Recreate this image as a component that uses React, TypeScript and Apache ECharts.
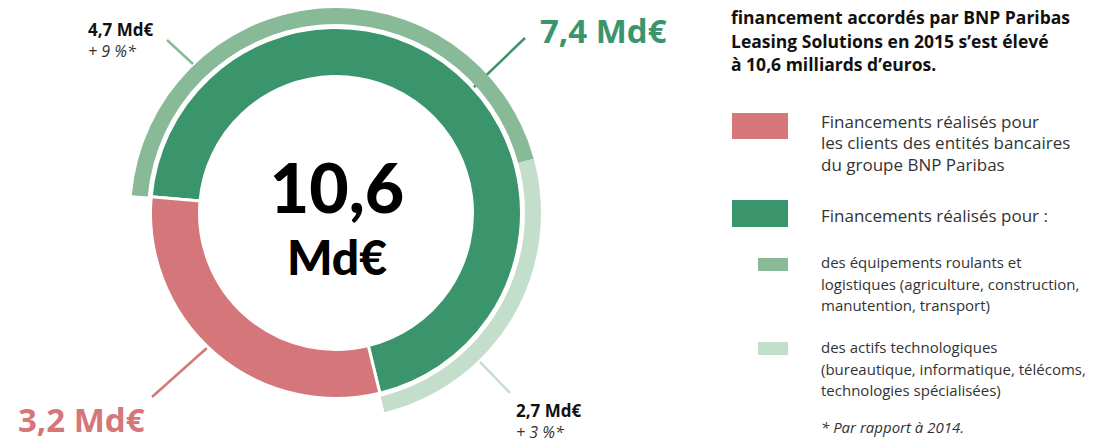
import React, { useEffect, useRef } from "react";
import * as echarts from "echarts";

// ---- data ----
const innerNames = ["Financements réalisés pour :", "Financements réalisés pour les clients des entités bancaires du groupe BNP Paribas"];
const innerValues = [7.4, 3.2];
const innerLabels = ["7,4 Md€", "3,2 Md€"];
const outerNames = ["des équipements roulants et logistiques", "des actifs technologiques"];
const outerValues = [4.7, 2.7];
const outerLabels = ["4,7 Md€", "2,7 Md€"];
const outerGrowth = ["+ 9 %*", "+ 3 %*"];
const totalLabel = ["10,6", "Md€"];
const titleLines = [
  "financement accordés par BNP Paribas",
  "Leasing Solutions en 2015 s’est élevé",
  "à 10,6 milliards d’euros.",
];
const legendRed = ["Financements réalisés pour", "les clients des entités bancaires", "du groupe BNP Paribas"];
const legendGreen = ["Financements réalisés pour :"];
const legendMid = ["des équipements roulants et", "logistiques (agriculture, construction,", "manutention, transport)"];
const legendLight = ["des actifs technologiques", "(bureautique, informatique, télécoms,", "technologies spécialisées)"];
const footnote = "* Par rapport à 2014.";

const RED = "#D4767A";
const DARK = "#3A956C";
const MID = "#88BA98";
const LIGHT = "#C3DECA";
const FONT = "'Open Sans', sans-serif";

function txt(x: number, y: number, text: string, size: number, opts: any = {}) {
  return {
    type: "text",
    x,
    y,
    silent: true,
    style: {
      text,
      fontFamily: opts.family || FONT,
      fontSize: size,
      fontWeight: opts.weight || "normal",
      fontStyle: opts.style || "normal",
      fill: opts.fill || "#333",
      textAlign: opts.align || "left",
      textVerticalAlign: "middle",
    },
  };
}

function lines(x: number, y0: number, arr: string[], size: number, lh: number, opts: any = {}) {
  return arr.map((t, i) => txt(x, y0 + i * lh, t, size, opts));
}

function ln(x1: number, y1: number, x2: number, y2: number, color: string) {
  return { type: "line", silent: true, shape: { x1, y1, x2, y2 }, style: { stroke: color, lineWidth: 2.5 } };
}

export default function App() {
  const ref = useRef<HTMLDivElement>(null);
  useEffect(() => {
    document.body.style.margin = "0";
    const chart = echarts.init(ref.current!, null, { renderer: "svg" });
    const cx = 336;
    const cy = 213;
    chart.setOption({
      animation: false,
      series: [
        {
          type: "pie",
          silent: true,
          center: [cx, cy],
          radius: [136.5, 185.5],
          startAngle: 175,
          clockwise: true,
          label: { show: false },
          labelLine: { show: false },
          itemStyle: { borderColor: "#fff", borderWidth: 3 },
          data: innerValues.map((v, i) => ({ name: innerNames[i], value: v, itemStyle: { color: [DARK, RED][i] } })),
        },
        {
          type: "pie",
          silent: true,
          center: [cx, cy],
          radius: [189, 205],
          startAngle: 175,
          clockwise: true,
          label: { show: false },
          labelLine: { show: false },
          itemStyle: { borderWidth: 0 },
          data: [
            ...outerValues.map((v, i) => ({ name: outerNames[i], value: v, itemStyle: { color: [MID, LIGHT][i] } })),
            { name: "rest", value: innerValues[1], itemStyle: { color: "rgba(0,0,0,0)" } },
          ],
        },
      ],
      graphic: [
        // leader lines
        ln(473, 88, 525, 38, DARK),
        ln(167, 40, 193, 64, MID),
        ln(152, 397, 208, 347, RED),
        ln(480, 362, 510, 393, LIGHT),
        // value labels
        txt(88, 29, outerLabels[0], 17, { weight: "bold", fill: "#111" }),
        txt(88, 51, outerGrowth[0], 16, { style: "italic", fill: "#333" }),
        txt(540, 30, innerLabels[0], 33, { weight: "bold", fill: DARK }),
        txt(18, 419, innerLabels[1], 33, { weight: "bold", fill: RED }),
        txt(516, 410, outerLabels[1], 17, { weight: "bold", fill: "#111" }),
        txt(516, 432, outerGrowth[1], 16, { style: "italic", fill: "#333" }),
        // center
        txt(337, 186, totalLabel[0], 68, { weight: 900, fill: "#000", align: "center", family: "Lato, sans-serif" }),
        txt(337, 256, totalLabel[1], 48, { weight: 900, fill: "#000", align: "center", family: "Lato, sans-serif" }),
        // title
        ...lines(731, 17, titleLines, 17.5, 23.5, { weight: "bold", fill: "#111" }),
        // legend swatches
        { type: "rect", silent: true, shape: { x: 732, y: 113, width: 56, height: 26 }, style: { fill: RED } },
        { type: "rect", silent: true, shape: { x: 732, y: 200, width: 56, height: 27 }, style: { fill: DARK } },
        { type: "rect", silent: true, shape: { x: 758, y: 258, width: 30, height: 13 }, style: { fill: MID } },
        { type: "rect", silent: true, shape: { x: 758, y: 342, width: 30, height: 13 }, style: { fill: LIGHT } },
        // legend text
        ...lines(821, 121, legendRed, 17, 21.5),
        ...lines(821, 215, legendGreen, 17, 21.5),
        ...lines(821, 262, legendMid, 15, 21.5),
        ...lines(821, 347, legendLight, 15, 21.5),
        txt(821, 427, footnote, 15, { style: "italic" }),
      ],
    });
    return () => chart.dispose();
  }, []);
  return <div ref={ref} style={{ width: 1101, height: 442 }} />;
}
